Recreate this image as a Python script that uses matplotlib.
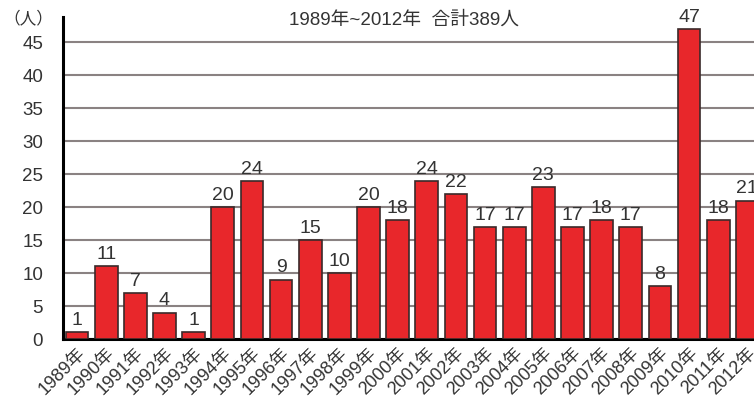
import numpy as np
import matplotlib
matplotlib.use("Agg")
import matplotlib.pyplot as plt

plt.rcParams['font.family'] = ['Liberation Sans', 'Noto Sans CJK JP', 'DejaVu Sans']

# data
years = [f"{y}年" for y in range(1989, 2013)]
counts = [1, 11, 7, 4, 1, 20, 24, 9, 15, 10, 20, 18,
          24, 22, 17, 17, 23, 17, 18, 17, 8, 47, 18, 21]
yticks = [0, 5, 10, 15, 20, 25, 30, 35, 40, 45]
title = "1989年~2012年  合計389人"

fig = plt.figure(figsize=(7.54, 4.12), dpi=100)
ax = fig.add_axes([62.5 / 754, 73 / 412, 1 - 62.5 / 754, 322.3 / 412])

x = np.arange(len(years))
ax.bar(x, counts, width=0.78, color='#e8272b', edgecolor='#3a2a2a',
       linewidth=1.2, zorder=3)
for xi, v in zip(x, counts):
    ax.text(xi, v + 0.5, str(v), ha='center', va='bottom', fontsize=14,
            color='#333333', zorder=4)

ax.set_xlim(-0.5, 23.23)
ax.set_ylim(0, 48.9)
ax.set_yticks(yticks)
ax.set_yticklabels([str(t) for t in yticks], fontsize=13.5, color='#333333')
ax.set_xticks(x)
ax.set_xticklabels(years, fontsize=13, color='#333333')
plt.setp(ax.get_xticklabels(), rotation=45, ha='right', rotation_mode='anchor')
ax.tick_params(axis='both', length=0)
ax.tick_params(axis='y', pad=14)
ax.tick_params(axis='x', pad=4)

ax.yaxis.grid(True, color='#8a8282', linewidth=1.5, zorder=0)
ax.set_axisbelow(True)
for side in ['top', 'right']:
    ax.spines[side].set_visible(False)
ax.spines['left'].set_linewidth(2.2)
ax.spines['bottom'].set_linewidth(2.2)

fig.text(28 / 754, 1 - 18 / 412, "（人）", ha='center', va='center',
         fontsize=12, color='#333333')
fig.text(404 / 754, 1 - 20 / 412, title, ha='center', va='center',
         fontsize=13.5, color='#333333')

fig.savefig("out.png", dpi=100, facecolor='white')
